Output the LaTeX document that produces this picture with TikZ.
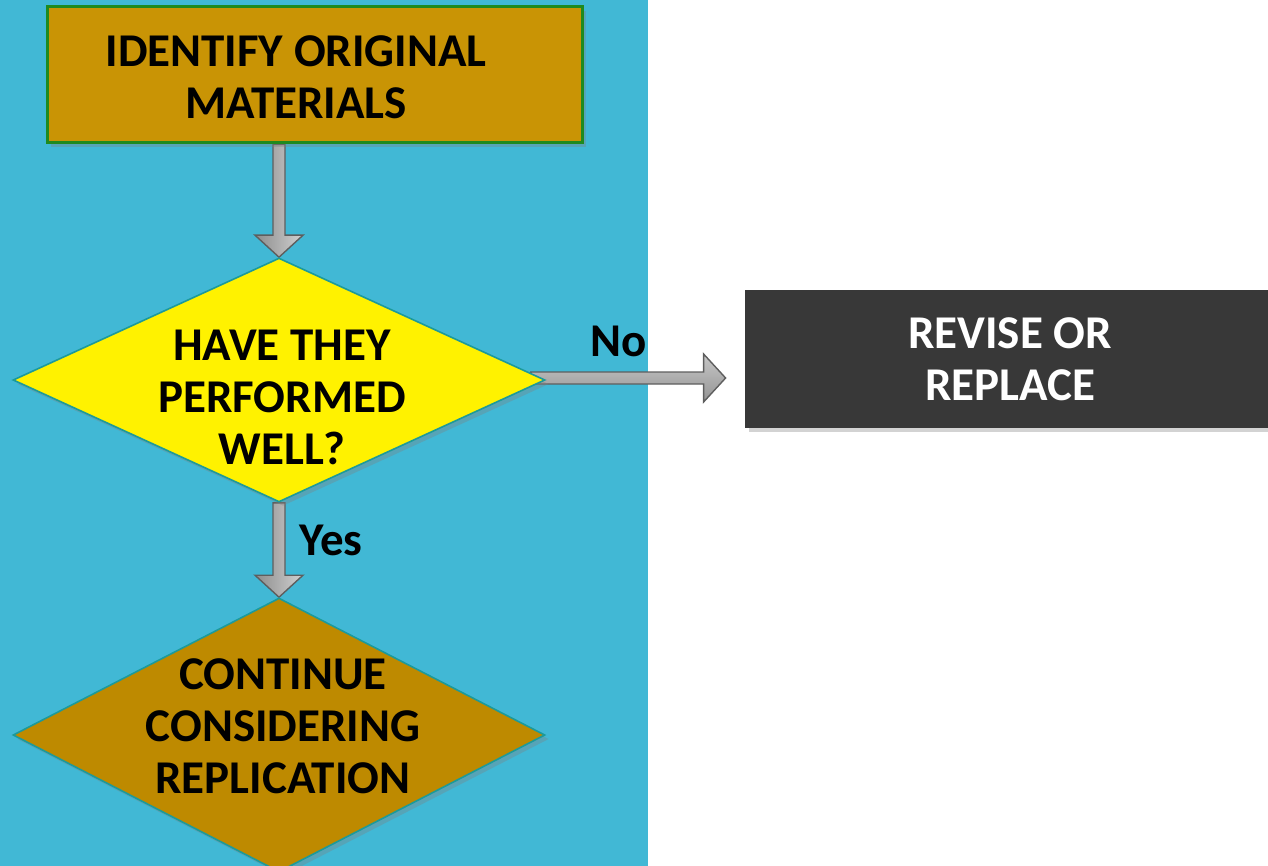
\documentclass[tikz,border=0pt]{standalone}
\usepackage{fontspec}
\setmainfont{Carlito}
\usetikzlibrary{shapes.geometric,calc,shadows,backgrounds}

\definecolor{panelblue}{HTML}{41B8D5}
\definecolor{boxgold}{HTML}{C99405}
\definecolor{boxgreen}{HTML}{1F8A1F}
\definecolor{decteal}{HTML}{1C9A9A}
\definecolor{darkgold}{HTML}{BE8A00}
\definecolor{revgray}{HTML}{383838}
\definecolor{arrowedge}{HTML}{5E5E5E}

\tikzset{
  lbl/.style={font=\bfseries\fontsize{23.5}{26}\selectfont, align=center},
  softshadow/.style={drop shadow={shadow xshift=2pt, shadow yshift=-2pt, opacity=0.35}},
  stepbox/.style={rectangle, draw=boxgreen, line width=1.5pt, fill=boxgold,
    minimum width=267.5pt, minimum height=68pt, softshadow},
  decision/.style={diamond, draw=decteal, line width=0.8pt, inner sep=0pt,
    minimum width=266pt, softshadow},
  endbox/.style={rectangle, fill=revgray, text=white, lbl,
    minimum width=265pt, minimum height=69pt, softshadow},
  arrowbody/.style={draw=arrowedge, line width=0.7pt},
}

% block arrow from #2 to #3
\newcommand{\blockarrow}[3][]{%
  \coordinate (headbase) at ($(#3)!11pt!(#2)$);
  \draw[arrowbody,#1] ($(#2)!3pt!90:(#3)$) -- ($(headbase)!3pt!90:(#3)$)
    -- ($(headbase)!12pt!90:(#3)$) -- (#3) -- ($(headbase)!12pt!-90:(#3)$)
    -- ($(headbase)!3pt!-90:(#3)$) -- ($(#2)!3pt!-90:(#3)$) -- cycle;}

\begin{document}
\begin{tikzpicture}[x=0.5pt, y=-0.5pt]
  \useasboundingbox (0,0) rectangle (1268,866);

  % Cajas
  \node[stepbox] (ident) at (314.5,75) {};
  \node[lbl] (identtxt) at (296,77) {IDENTIFY ORIGINAL\\MATERIALS};

  \node[decision, fill=yellow, minimum height=122pt] (perf) at (279,380) {};
  \node[lbl] (perftxt) at (282,397) {HAVE THEY\\PERFORMED\\WELL?};

  \node[decision, fill=darkgold, minimum height=137pt] (cont) at (279,735) {};
  \node[lbl] (conttxt) at (283,726) {CONTINUE\\CONSIDERING\\REPLICATION};

  \node[endbox] (revise) at (1010,359) {REVISE OR\\REPLACE};

  % Etiquetas
  \node[lbl] (no) at (619,341) {No};
  \node[lbl] (yes) at (331,540) {Yes};

  % Fondo y flechas
  \begin{pgfonlayer}{background}
    \fill[panelblue] (0,0) rectangle (648,866);
    \coordinate (downstart) at (ident.south -| perf.north);
    \blockarrow[left color=black!45, right color=black!18]{downstart}{perf.north}
    \blockarrow[left color=black!45, right color=black!18]{perf.south}{cont.north}
    \coordinate (nostart) at ($(perf.east)+(-15,-2)$);
    \coordinate (noend) at ($(revise.west |- nostart)+(-19,0)$);
    \blockarrow[top color=black!22, bottom color=black!42]{nostart}{noend}
  \end{pgfonlayer}
\end{tikzpicture}
\end{document}
